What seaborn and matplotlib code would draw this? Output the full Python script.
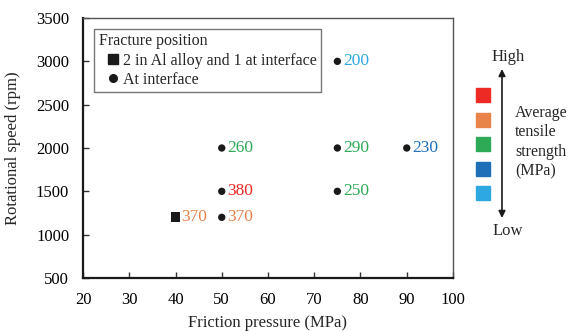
import matplotlib
matplotlib.use("Agg")
import matplotlib.pyplot as plt
from matplotlib.lines import Line2D
from matplotlib.patches import Rectangle, FancyArrowPatch
import pandas as pd
import seaborn as sns

# data
pressure = [40, 50, 50, 50, 75, 75, 75, 90]
speed = [1200, 1200, 1500, 2000, 1500, 2000, 3000, 2000]
strength = [370, 370, 380, 260, 250, 290, 200, 230]
fracture = ["2 in Al alloy and 1 at interface", "At interface", "At interface",
            "At interface", "At interface", "At interface", "At interface", "At interface"]
label_color = ["#E8834A", "#E8834A", "#EE2A24", "#2EAA57", "#2EAA57", "#2EAA57", "#2EA8E0", "#1F6FB8"]
scale_colors = ["#EE2A24", "#E8834A", "#2EAA57", "#1F6FB8", "#2EA8E0"]

df = pd.DataFrame({"pressure": pressure, "speed": speed, "strength": strength,
                   "fracture": fracture})

sns.set_theme(style="white")
plt.rcParams["font.family"] = ["Liberation Serif", "DejaVu Serif"]
plt.rcParams["font.size"] = 12

fig = plt.figure(figsize=(5.69, 3.31), dpi=100)
ax = fig.add_axes([83 / 569, 53 / 331, 370 / 569, 260 / 331])

sns.scatterplot(data=df, x="pressure", y="speed", style="fracture",
                markers={"2 in Al alloy and 1 at interface": "s", "At interface": "o"},
                color="#1a1a1a", edgecolor="none", ax=ax, legend=False)
ax.collections[0].set_sizes([28 if f == "At interface" else 50 for f in fracture])

for x, y, v, c in zip(pressure, speed, strength, label_color):
    ax.annotate(str(v), (x, y), xytext=(4, 0), textcoords="offset points",
                ha="left", va="center", color=c, fontsize=12.5)

ax.set_xlim(20, 100)
ax.set_ylim(500, 3500)
ax.set_xticks(range(20, 101, 10))
ax.set_yticks(range(500, 3501, 500))
ax.tick_params(direction="in", length=4, width=1, colors="#333333", labelsize=12,
               labelcolor="black", pad=10, bottom=True, left=True)
ax.set_xlabel("Friction pressure (MPa)", fontsize=12)
ax.set_ylabel("Rotational speed (rpm)", fontsize=12)
ax.xaxis.set_label_coords(0.5, -0.143)
ax.yaxis.set_label_coords(-0.168, 0.5)
for side in ["left", "bottom"]:
    ax.spines[side].set_color("#1a1a1a")
    ax.spines[side].set_linewidth(1.6)
for side in ["top", "right"]:
    ax.spines[side].set_color("#555555")
    ax.spines[side].set_linewidth(1.0)

# legend for fracture position
handles = [Line2D([], [], marker="s", ls="", color="#1a1a1a", markersize=7),
           Line2D([], [], marker="o", ls="", color="#1a1a1a", markersize=5.5)]
leg = ax.legend(handles, ["2 in Al alloy and 1 at interface", "At interface"],
                title="Fracture position", loc="upper left", bbox_to_anchor=(0.03, 0.958),
                frameon=True, fancybox=False, edgecolor="#555555", fontsize=11.5,
                title_fontsize=11.5, handlelength=1.8, handletextpad=-0.3,
                labelspacing=0.2, borderpad=0.28, borderaxespad=0)
leg._legend_box.align = "left"
leg.get_frame().set_linewidth(1.0)

# tensile strength colour scale on the right
for i, c in enumerate(scale_colors):
    yy = 1 - (95 + i * 24.5) / 331
    fig.patches.append(Rectangle((476 / 569, yy - 7 / 331), 14 / 569, 14 / 331,
                                 transform=fig.transFigure, color=c, figure=fig))
fig.patches.append(FancyArrowPatch(
    (502 / 569, 1 - 69 / 331), (502 / 569, 1 - 218 / 331), transform=fig.transFigure,
    arrowstyle="<|-|>", mutation_scale=10, color="#1a1a1a", lw=1.2,
    shrinkA=0, shrinkB=0, figure=fig))
fig.text(508 / 569, 1 - 57 / 331, "High", ha="center", va="center", fontsize=12)
fig.text(508 / 569, 1 - 231 / 331, "Low", ha="center", va="center", fontsize=12)
fig.text(515 / 569, 1 - 142 / 331, "Average\ntensile\nstrength\n(MPa)", ha="left",
         va="center", fontsize=11.5, linespacing=1.3)

fig.savefig("out.png", dpi=100)
